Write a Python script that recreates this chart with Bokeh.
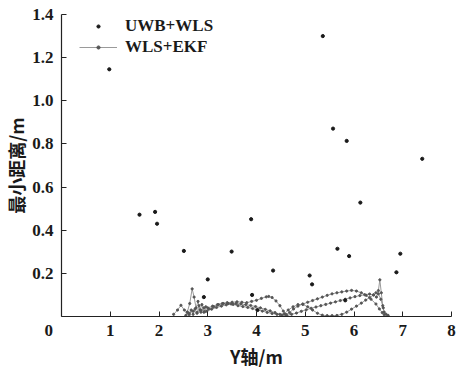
from bokeh.plotting import figure
from bokeh.models import FixedTicker, Range1d, Legend, LegendItem, NumeralTickFormatter
from bokeh.embed import file_html
from bokeh.resources import INLINE

# UWB+WLS scattered minimum distances
uwb_x = [0.98, 1.60, 1.92, 1.96, 2.51, 2.92, 3.00, 3.49, 3.89, 3.91, 4.02, 4.34,
         5.09, 5.14, 5.36, 5.57, 5.66, 5.82, 5.85, 5.90, 6.13, 6.87, 6.95, 7.40]
uwb_y = [1.146, 0.472, 0.485, 0.430, 0.304, 0.090, 0.172, 0.301, 0.451, 0.100, 0.030, 0.213,
         0.190, 0.149, 1.300, 0.871, 0.314, 0.075, 0.814, 0.280, 0.528, 0.205, 0.291, 0.731]

# WLS+EKF trajectory (back and forth passes)
ekf_x = [2.30, 2.38, 2.45, 2.52, 2.58, 2.63, 2.68, 2.72, 2.76, 2.80, 2.84, 2.88, 2.92, 2.96,
         3.00, 3.10, 3.20, 3.30, 3.40, 3.50, 3.60, 3.70, 3.80, 3.90, 4.00, 4.10, 4.20, 4.25,
         4.32, 4.40, 4.48, 4.55, 4.60, 4.68, 4.76, 4.85, 4.95, 5.05, 5.15, 5.25, 5.35, 5.45,
         5.55, 5.65, 5.75, 5.85, 5.95, 6.05, 6.15, 6.25, 6.35, 6.45, 6.52, 6.58, 6.62,
         6.60, 6.55, 6.50, 6.45, 6.40, 6.32, 6.24, 6.15, 6.05, 5.95, 5.85, 5.75, 5.65, 5.55,
         5.45, 5.35, 5.25, 5.15, 5.05, 4.95, 4.85, 4.75, 4.65, 4.57, 4.48, 4.38, 4.28, 4.18,
         4.08, 3.98, 3.88, 3.78, 3.68, 3.58, 3.48, 3.38, 3.28, 3.18, 3.08, 2.98, 2.92, 2.86,
         2.82, 2.78, 2.74, 2.70, 2.66, 2.62, 2.58, 2.55,
         2.62, 2.70, 2.78, 2.86, 2.94, 3.02, 3.12, 3.22, 3.32, 3.42, 3.52, 3.62, 3.72, 3.82,
         3.92, 4.02, 4.12, 4.22, 4.32, 4.42, 4.52, 4.62, 4.72, 4.82, 4.92, 5.02, 5.12, 5.22,
         5.32, 5.42, 5.52, 5.62, 5.72, 5.82, 5.92, 6.02, 6.12, 6.22, 6.32, 6.40, 6.46, 6.50,
         6.53, 6.56, 6.59, 6.62, 6.66, 6.70]
ekf_y = [0.010, 0.030, 0.052, 0.030, 0.020, 0.060, 0.128, 0.090, 0.040, 0.070, 0.030, 0.055, 0.020, 0.045,
         0.040, 0.048, 0.055, 0.060, 0.064, 0.066, 0.068, 0.066, 0.064, 0.070, 0.075, 0.084, 0.091, 0.093,
         0.088, 0.072, 0.050, 0.025, 0.010, 0.018, 0.035, 0.048, 0.058, 0.066, 0.074, 0.082, 0.090, 0.098,
         0.105, 0.110, 0.114, 0.118, 0.121, 0.118, 0.110, 0.098, 0.080, 0.058, 0.035, 0.018, 0.008,
         0.040, 0.080, 0.105, 0.110, 0.100, 0.088, 0.076, 0.062, 0.048, 0.034, 0.020, 0.010, 0.005, 0.004,
         0.004, 0.006, 0.015, 0.030, 0.045, 0.056, 0.055, 0.045, 0.030, 0.012, 0.010, 0.018, 0.026, 0.033,
         0.040, 0.046, 0.051, 0.055, 0.058, 0.060, 0.058, 0.054, 0.048, 0.042, 0.034, 0.025, 0.040, 0.020,
         0.050, 0.015, 0.035, 0.010, 0.030, 0.008, 0.020, 0.005,
         0.015, 0.025, 0.018, 0.030, 0.022, 0.035, 0.045, 0.055, 0.060, 0.060, 0.056, 0.050, 0.046, 0.042,
         0.037, 0.031, 0.025, 0.019, 0.014, 0.010, 0.006, 0.005, 0.010, 0.016, 0.024, 0.031, 0.038, 0.044,
         0.050, 0.056, 0.062, 0.068, 0.074, 0.080, 0.086, 0.092, 0.097, 0.101, 0.104, 0.100, 0.090, 0.120,
         0.170, 0.110, 0.050, 0.020, 0.010, 0.005]

x_ticks = [0, 1, 2, 3, 4, 5, 6, 7, 8]
y_ticks = [0.2, 0.4, 0.6, 0.8, 1.0, 1.2, 1.4]

SERIF = "Liberation Serif"

p = figure(frame_width=390, frame_height=302, output_backend="svg", toolbar_location=None,
           x_range=Range1d(0, 8), y_range=Range1d(0, 1.4),
           min_border_left=60, min_border_right=6, min_border_top=14, min_border_bottom=10)
p.outline_line_color = None
p.grid.visible = False
p.background_fill_color = "white"
p.border_fill_color = "white"

r_ekf_line = p.line(ekf_x, ekf_y, line_color="#9a9a9a", line_width=1)
r_ekf_pts = p.scatter(ekf_x, ekf_y, size=2.2, color="#555555")
r_uwb = p.scatter(uwb_x, uwb_y, size=3.2, color="#1a1a1a")

for ax in (p.xaxis[0], p.yaxis[0]):
    ax.axis_line_color = "#222222"
    ax.axis_line_width = 1.2
    ax.major_tick_in = 5
    ax.major_tick_out = 0
    ax.minor_tick_line_color = None
    ax.major_tick_line_color = "#222222"
    ax.major_label_text_font = SERIF
    ax.major_label_text_font_style = "bold"
    ax.major_label_text_font_size = "17px"
    ax.major_label_text_color = "#1a1a1a"
    ax.axis_label_text_color = "#1a1a1a"

p.xaxis.ticker = FixedTicker(ticks=x_ticks)
p.xaxis.major_label_overrides = {0: "0\u2007\u2007\u2007"}
p.yaxis.ticker = FixedTicker(ticks=y_ticks)
p.yaxis.formatter = NumeralTickFormatter(format="0.0")
p.xaxis.major_label_standoff = 4
p.yaxis.major_label_standoff = 8

p.xaxis.axis_label = "Y轴/m"
p.xaxis.axis_label_text_font = "Noto Sans CJK SC"
p.xaxis.axis_label_text_font_style = "bold"
p.xaxis.axis_label_text_font_size = "18px"
p.xaxis.axis_label_standoff = 0

p.yaxis.axis_label = "最小距离/m"
p.yaxis.axis_label_text_font = "Noto Sans CJK SC"
p.yaxis.axis_label_text_font_style = "bold"
p.yaxis.axis_label_text_font_size = "18px"
p.yaxis.axis_label_standoff = 0

legend = Legend(items=[LegendItem(label="UWB+WLS", renderers=[r_uwb]),
                       LegendItem(label="WLS+EKF", renderers=[r_ekf_line, r_ekf_pts])],
                location=(18, 259), border_line_color=None, background_fill_alpha=0,
                label_text_font=SERIF, label_text_font_style="bold",
                label_text_font_size="17px", label_text_color="#1a1a1a",
                glyph_width=38, glyph_height=8, spacing=1, padding=2, margin=0, label_standoff=8,
                label_height=20)
p.add_layout(legend)

open("out.html", "w").write(file_html(p, INLINE))
